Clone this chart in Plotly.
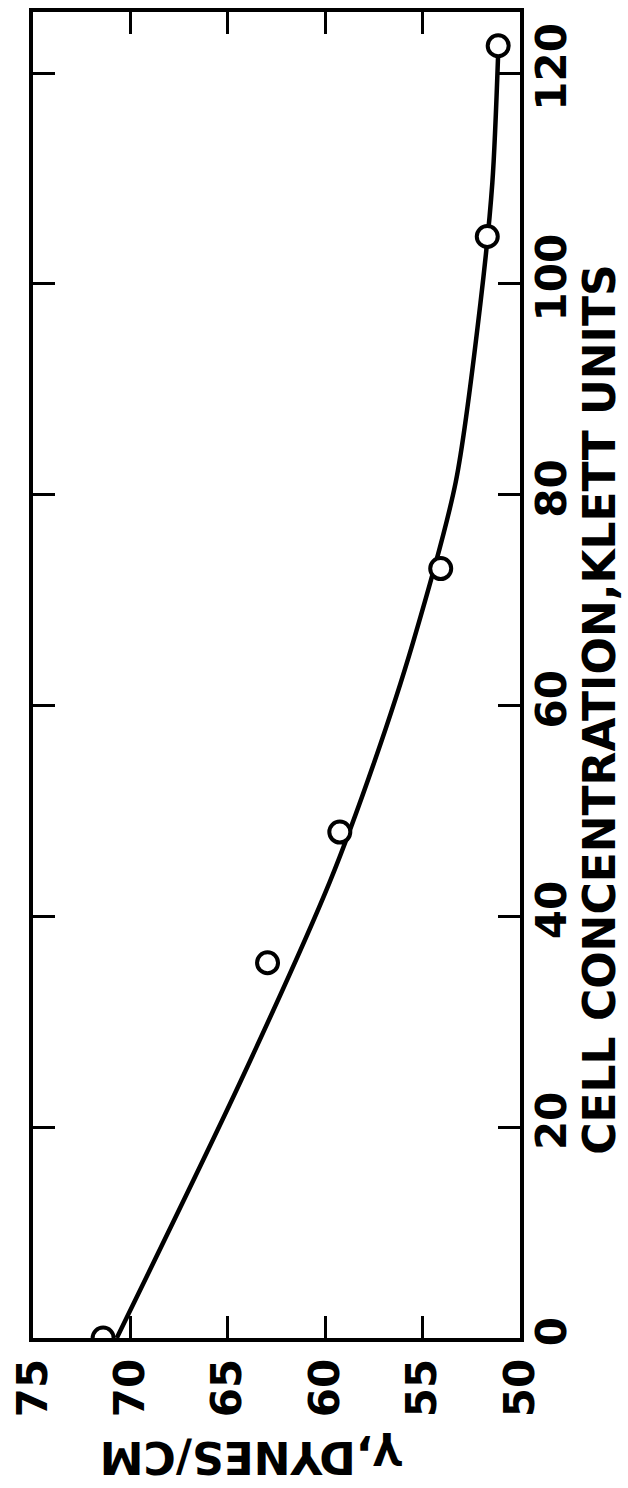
import plotly.graph_objects as go

# Measured points (open circles)
conc_pts = [0, 35.6, 48.0, 73.0, 104.5, 122.6]
gamma_pts = [71.4, 62.96, 59.25, 54.07, 51.68, 51.12]

# Smooth fitted curve
curve_conc = [0, 24.4, 43.3, 54.7, 66.0, 81.2, 98.2, 109.6, 121.9]
curve_gamma = [70.7, 64.33, 59.76, 57.47, 55.49, 53.3, 52.03, 51.42, 51.12]

gamma_ticks = [75, 70, 65, 60, 55, 50]
conc_ticks = [0, 20, 40, 60, 80, 100, 120]

x_title = "CELL CONCENTRATION,KLETT UNITS"
y_title = "γ,DYNES/CM"

FONT = "DejaVu Sans"

fig = go.Figure()
fig.add_trace(go.Scatter(
    x=curve_gamma, y=curve_conc, mode="lines",
    line=dict(color="black", width=4.5, shape="spline", smoothing=0.8),
    hoverinfo="skip", showlegend=False,
))
fig.add_trace(go.Scatter(
    x=gamma_pts, y=conc_pts, mode="markers",
    marker=dict(symbol="circle", size=21, color="white",
                line=dict(color="black", width=4)),
    showlegend=False,
))

fig.update_layout(
    width=628, height=1488,
    margin=dict(l=28, r=108, t=8, b=150),
    paper_bgcolor="white", plot_bgcolor="white",
    font=dict(family=FONT, color="black", weight="bold"),
    xaxis=dict(
        range=[75, 50], tickvals=gamma_ticks, ticktext=[str(v) for v in gamma_ticks],
        ticks="inside", ticklen=22, tickwidth=3, tickcolor="black",
        showline=True, linewidth=4, linecolor="black", mirror="ticks",
        showgrid=False, zeroline=False, tickangle=-90,
        tickfont=dict(size=42, family=FONT, color="black", weight="bold"),
    ),
    yaxis=dict(
        range=[0, 125.8], tickvals=conc_ticks, ticktext=[str(v) for v in conc_ticks],
        side="right",
        ticks="inside", ticklen=22, tickwidth=3, tickcolor="black",
        showline=True, linewidth=4, linecolor="black", mirror="ticks",
        showgrid=False, zeroline=False, tickangle=-90, ticklabelstandoff=-8,
        tickfont=dict(size=42, family=FONT, color="black", weight="bold"),
    ),
    annotations=[
        dict(text=x_title, xref="paper", yref="paper", x=1.163, y=0.474,
             showarrow=False, textangle=-90, xanchor="center", yanchor="middle",
             font=dict(size=44, family=FONT, color="black", weight="bold")),
        dict(text=y_title, xref="paper", yref="paper", x=0.447, y=-0.090,
             showarrow=False, textangle=180, xanchor="center", yanchor="middle",
             font=dict(size=44, family=FONT, color="black", weight="bold")),
    ],
)

fig.write_html("out.html")
